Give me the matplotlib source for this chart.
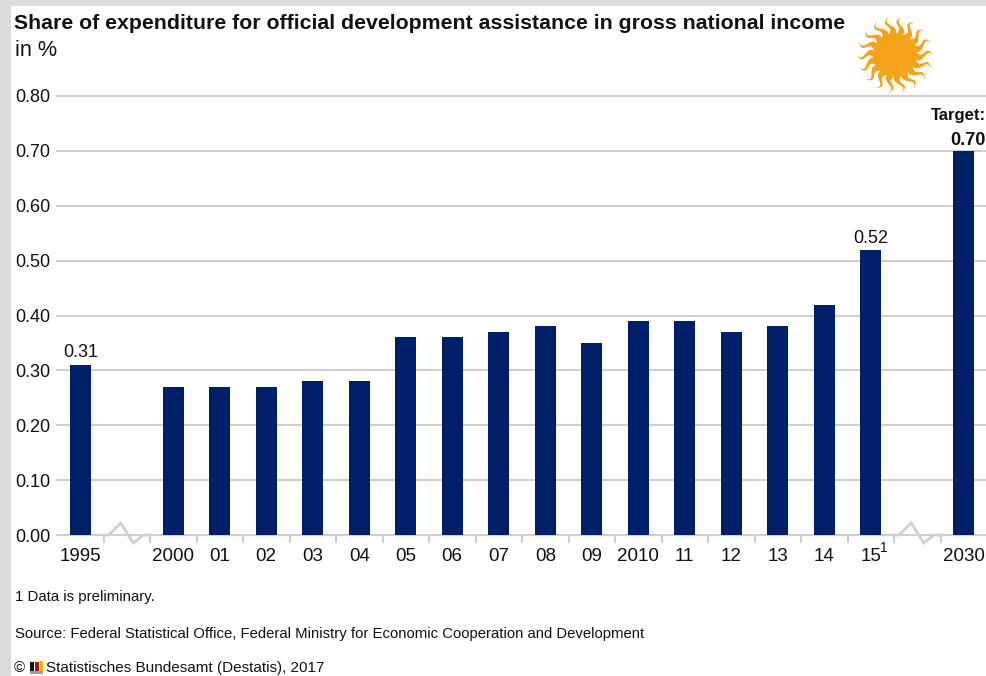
import numpy as np
import matplotlib
matplotlib.use("Agg")
import matplotlib.pyplot as plt
from matplotlib.patches import Polygon, Circle, Rectangle

plt.rcParams['font.family'] = ['Liberation Sans', 'DejaVu Sans']

# None marks the two empty slots where the axis is broken
years = ['1995', '', '2000', '01', '02', '03', '04', '05', '06', '07', '08', '09',
         '2010', '11', '12', '13', '14', '15', '', '2030']
shares = [0.31, None, 0.27, 0.27, 0.27, 0.28, 0.28, 0.36, 0.36, 0.37, 0.38, 0.35,
          0.39, 0.39, 0.37, 0.38, 0.42, 0.52, None, 0.70]
y_ticks = [0.00, 0.10, 0.20, 0.30, 0.40, 0.50, 0.60, 0.70, 0.80]

NAVY = '#001f69'
GREY = '#cfcfcf'
TEXT = '#111111'
W, H = 986, 676


def fig_xy(x, y):
    """pixel position (from top left) to figure coordinates"""
    return x / W, 1 - y / H


def draw_sun(bg, cx, cy, r=22, r_out=38, n=18):
    """Sun logo: disc with wavy tapered rays, drawn in pixel coords"""
    colour = '#f5a31a'
    bg.add_patch(Circle((cx, cy), r, color=colour, lw=0))
    for i in range(n):
        a0 = 2 * np.pi * i / n
        t = np.linspace(0, 1, 20)
        rad = r - 2 + (r_out - r + 2) * t
        ang = a0 + 0.1 * np.sin(t * 2 * np.pi)
        half = 3.6 * (1 - t) + 0.2
        cxs = cx + rad * np.cos(ang)
        cys = cy + rad * np.sin(ang)
        nx, ny = -np.sin(ang), np.cos(ang)
        left = np.column_stack([cxs + half * nx, cys + half * ny])
        right = np.column_stack([cxs - half * nx, cys - half * ny])
        bg.add_patch(Polygon(np.vstack([left, right[::-1]]), color=colour, lw=0))


def draw_break(ax, slot):
    """Zig-zag in the x axis line over an empty slot"""
    trans = ax.get_xaxis_transform()
    # x in slots, y in axes fraction, so the zig-zag follows the axis
    xs = [slot - 0.5, slot - 0.39, slot - 0.13, slot + 0.14, slot + 0.36, slot + 0.5]
    ys = [0, 0, 12 / 439, -8 / 439, 0, 0]
    ax.plot(xs, ys, color=GREY, lw=2, transform=trans, clip_on=False, zorder=1,
            solid_joinstyle='miter')


fig = plt.figure(figsize=(W / 100, H / 100), dpi=100)

# page background, grey strips and the sun live on a full figure pixel axes
bg = fig.add_axes([0, 0, 1, 1])
bg.set_xlim(0, W)
bg.set_ylim(H, 0)
bg.axis('off')
bg.add_patch(Rectangle((0, 0), W, 5.5, color='#dcdcdc', lw=0))
bg.add_patch(Rectangle((0, 0), 11, H, color='#dcdcdc', lw=0))
draw_sun(bg, 895, 55)

# small flag icon in the copyright line
bg.add_patch(Rectangle((29.5, 671), 13.5, 2.5, color='#a0a0a0', lw=0))
bg.add_patch(Rectangle((30, 662), 4, 9, color='#111111', lw=0))
bg.add_patch(Rectangle((35, 662), 3.5, 9, color='#b01020', lw=0))
bg.add_patch(Rectangle((40, 661), 3, 10, color='#f2b800', lw=0))

x0, _ = fig_xy(57, 0)
_, y0 = fig_xy(0, 535)
x1, _ = fig_xy(987, 0)
_, y1 = fig_xy(0, 96)
ax = fig.add_axes([x0, y0, x1 - x0, y1 - y0])
ax.patch.set_alpha(0)

slots = np.arange(len(years))
bar_slots = [s for s, v in zip(slots, shares) if v is not None]
bar_vals = [v for v in shares if v is not None]
ax.bar(bar_slots, bar_vals, width=0.455, color=NAVY, zorder=3)

ax.set_xlim(-0.5, len(years) - 0.5)
ax.set_ylim(0, 0.8)
ax.set_yticks(y_ticks)
ax.set_yticklabels(['%.2f' % v for v in y_ticks], fontsize=13, color=TEXT)
ax.tick_params(axis='y', length=0, pad=5)
ax.grid(axis='y', color=GREY, lw=1.5, zorder=0, clip_on=False)
for line in ax.get_ygridlines():
    line.set_clip_on(False)
ax.set_axisbelow(True)

# ticks between the slots, labels centred on the slots
ax.set_xticks(slots[:-1] + 0.5)
ax.set_xticklabels([])
ax.tick_params(axis='x', which='major', length=6, width=1.5, color=GREY)
ax.set_xticks(slots, minor=True)
ax.set_xticklabels(years, minor=True, fontsize=13.5, color=TEXT)
ax.tick_params(axis='x', which='minor', length=0, pad=9.3)

for side in ['top', 'right', 'left', 'bottom']:
    ax.spines[side].set_visible(False)

# axis base line with the two breaks
ax.plot([-0.5, 0.5], [0, 0], color=GREY, lw=1.5, clip_on=False, zorder=1)
ax.plot([1.5, 17.5], [0, 0], color=GREY, lw=1.5, clip_on=False, zorder=1)
ax.plot([18.5, 19.5], [0, 0], color=GREY, lw=1.5, clip_on=False, zorder=1)
draw_break(ax, 1)
draw_break(ax, 18)

ax.annotate('0.31', (0, shares[0]), xytext=(0, 3), textcoords='offset points',
            ha='center', va='bottom', fontsize=13, color=TEXT)
ax.annotate('0.52', (17, shares[17]), xytext=(0, 2), textcoords='offset points',
            ha='center', va='bottom', fontsize=13, color=TEXT)
ax.annotate('0.70', (19.47, shares[19]), xytext=(0, 1), textcoords='offset points',
            ha='right', va='bottom', fontsize=13, fontweight='bold', color=TEXT,
            annotation_clip=False)
ax.annotate('Target:', (19.47, shares[19]), xytext=(0, 20), textcoords='offset points',
            ha='right', va='bottom', fontsize=12, fontweight='bold', color=TEXT,
            annotation_clip=False)
# footnote marker next to the 15 label
ax.annotate('1', (17, 0), xytext=(6.5, -9), textcoords='offset points',
            ha='left', va='center', fontsize=10, color=TEXT, annotation_clip=False)

fig.text(*fig_xy(14, 23.5), 'Share of expenditure for official development assistance in gross national income',
         fontsize=15.3, fontweight='bold', color=TEXT, va='center', ha='left')
fig.text(*fig_xy(15, 50), 'in %', fontsize=15.6, color=TEXT, va='center', ha='left')

fig.text(*fig_xy(15, 597), '1 Data is preliminary.', fontsize=10.8, color=TEXT, va='center')
fig.text(*fig_xy(15, 634), 'Source: Federal Statistical Office, Federal Ministry for Economic Cooperation and Development',
         fontsize=10.75, color=TEXT, va='center')
fig.text(*fig_xy(14, 668), '\u00a9', fontsize=10.8, color=TEXT, va='center')
fig.text(*fig_xy(46, 668), 'Statistisches Bundesamt (Destatis), 2017', fontsize=11, color=TEXT, va='center')

fig.savefig('out.png', dpi=100)
